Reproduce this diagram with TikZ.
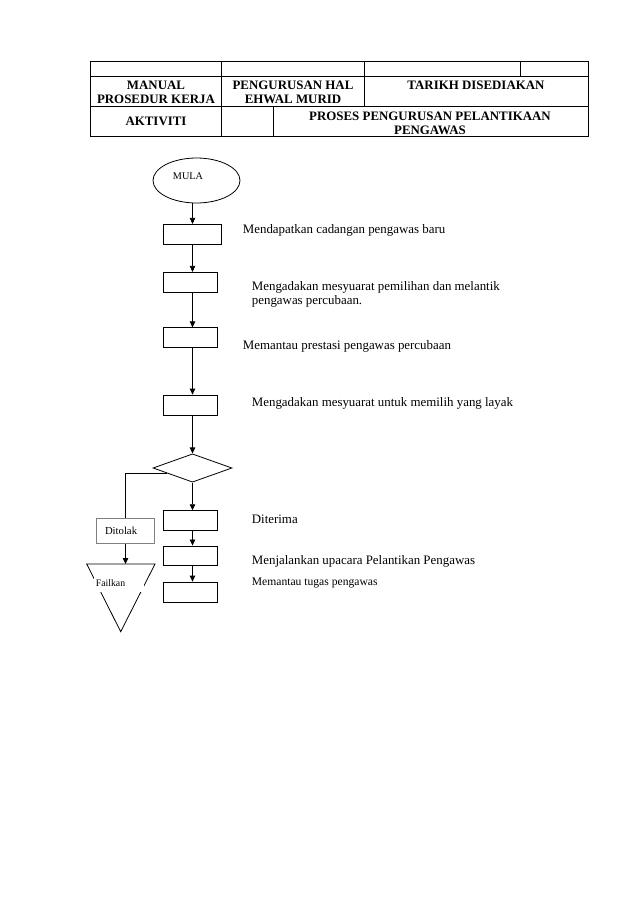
\documentclass[tikz,border=0pt]{standalone}
\usepackage{fontspec}
\setmainfont{Liberation Serif}
\usepackage{tikz}
\usetikzlibrary{arrows.meta,positioning,calc,shapes.geometric}
\definecolor{pkline}{HTML}{000000}
\definecolor{pkgrey}{HTML}{808080}

\begin{document}
\begin{tikzpicture}[x=1pt,y=-1pt,
  hd/.style={font=\fontsize{12.9}{14}\selectfont\bfseries,align=center,inner sep=0pt},
  txt/.style={font=\fontsize{12.9}{14}\selectfont,align=left,inner sep=0pt},
  small/.style={font=\fontsize{10.2}{12}\selectfont,inner sep=0pt},
  box/.style={draw=pkline,line width=0.8pt,minimum width=54.4pt,minimum height=20pt,
              inner sep=0pt},
  w/.style={-{Triangle[length=6pt,width=5.5pt]},pkline,line width=0.8pt},
  ln/.style={pkline,line width=0.8pt},
  grid/.style={draw=pkline,line width=0.7pt}]

\useasboundingbox (0,0) rectangle (638,903);

% ---------------- header table ---------------------------------------------
\draw[grid] (90,61.7) rectangle (588,136);
\draw[grid] (90,76.7) -- (588,76.7);
\draw[grid] (90,106.7) -- (588,106.7);
\draw[grid] (221.7,61.7) -- (221.7,136);
\draw[grid] (364,61.7) -- (364,106.7);
\draw[grid] (520.7,61.7) -- (520.7,76.7);
\draw[grid] (273,106.7) -- (273,136);

\node[hd,anchor=north] (manual) at (156,80.8) {MANUAL\\PROSEDUR KERJA};
\node[hd,anchor=north] (urus) at (293,80.8) {PENGURUSAN HAL\\EHWAL MURID};
\node[hd,anchor=north] (tarikh) at (476,80.8) {TARIKH DISEDIAKAN};
\node[hd,anchor=north] (akt) at (156,117.2) {AKTIVITI};
\node[hd,anchor=north] (proses) at (430,111.5)
  {PROSES PENGURUSAN PELANTIKAAN\\PENGAWAS};

% ---------------- start and main column ------------------------------------
\node[ellipse,draw=pkline,line width=0.8pt,minimum width=87pt,minimum height=45pt,
      inner sep=0pt] (mula) at (196.5,180.5) {};
\node[small] (mulatxt) at (188,176) {MULA};

\node[box,minimum width=58.4pt] (b1) at (192.5,234.3) {};
\node[box] (b2) at (190.5,282.3) {};
\node[box] (b3) at (190.5,337.8) {};
\node[box] (b4) at (190.5,405) {};
\node[diamond,draw=pkline,line width=0.8pt,minimum width=79pt,minimum height=28.3pt,
      inner sep=0pt] (dec) at (192.5,468) {};
\node[box,minimum height=19.3pt] (b5) at (190.3,520.3) {};
\node[box,minimum height=19.7pt] (b6) at (190.3,555.8) {};
\node[box] (b7) at (190.3,592) {};

\draw[w] (mula.south -| b1.north) -- (b1.north);
\draw[w] (b1.south) -- (b1.south |- b2.north);
\draw[w] (b1.south |- b2.south) -- (b1.south |- b3.north);
\draw[w] (b1.south |- b3.south) -- (b1.south |- b4.north);
\draw[w] (b1.south |- b4.south) -- (dec.north);
\draw[w] (dec.south) -- (dec.south |- b5.north);
\draw[w] (dec.south |- b5.south) -- (dec.south |- b6.north);
\draw[w] (dec.south |- b6.south) -- (dec.south |- b7.north);

% ---------------- rejected branch ------------------------------------------
\node[draw=pkgrey,line width=1pt,minimum width=57.6pt,minimum height=24.3pt,
      text width=41pt,inner xsep=8.3pt,inner ysep=0pt,align=left,
      font=\fontsize{10.7}{12}\selectfont] (rej) at (125.5,531) {Ditolak};
\coordinate (brk) at ($(dec.west)!0.35!(dec.south)$);
\draw[ln] (brk) -| (rej.north);

\coordinate (fl) at (86.7,564);
\coordinate (fr) at (155,564);
\coordinate (fa) at (120.7,631.7);
\draw[ln,line join=miter] (fl) -- (fr) -- (fa) -- cycle;
\draw[w] (rej.south) -- (rej.south |- fl);
\node[fill=white,font=\fontsize{9.8}{11}\selectfont,anchor=west,inner sep=0pt,
      minimum height=18pt,text width=50pt,align=left] (fail) at (94,583) {\,Failkan};

% ---------------- step texts -----------------------------------------------
\node[txt,anchor=base west] (t1) at (242.7,233.3) {Mendapatkan cadangan pengawas baru};
\node[txt,anchor=north west] (t2) at (251.7,281.2)
  {Mengadakan mesyuarat pemilihan dan melantik\\pengawas percubaan.};
\node[txt,anchor=base west] (t3) at (242.7,349.3) {Memantau prestasi pengawas percubaan};
\node[txt,anchor=base west] (t4) at (251.7,406) {Mengadakan mesyuarat untuk memilih yang layak};
\node[txt,anchor=base west] (t5) at (251.7,523.3) {Diterima};
\node[txt,anchor=base west] (t6) at (251.7,564) {Menjalankan upacara Pelantikan Pengawas};
\node[txt,anchor=base west,font=\fontsize{11.6}{13}\selectfont] (t7) at (251.7,585)
  {Memantau tugas pengawas};

\end{tikzpicture}
\end{document}
